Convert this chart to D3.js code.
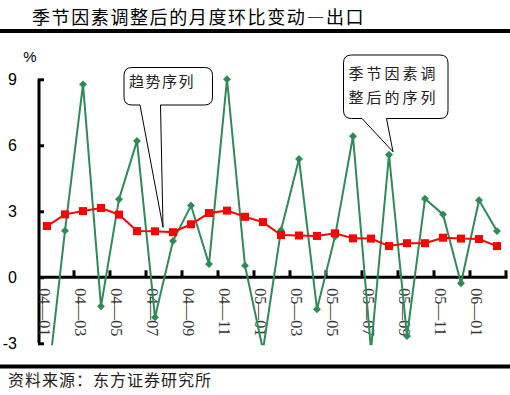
<!DOCTYPE html>
<html lang="zh">
  <head>
    <meta charset="utf-8">
    <title>季节因素调整后的月度环比变动—出口</title>
    <style>
      body { margin: 0; background: #fff; }
      svg { display: block; }
    </style>
  </head>
  <body>
    <div id="chart-area"></div>
    <script src="https://cdn.jsdelivr.net/npm/d3@7/dist/d3.min.js"></script>
    <script>
      // months 04-01 .. 06-02
      const months = ['04-01','04-02','04-03','04-04','04-05','04-06','04-07','04-08','04-09','04-10','04-11','04-12',
                      '05-01','05-02','05-03','05-04','05-05','05-06','05-07','05-08','05-09','05-10','05-11','05-12',
                      '06-01','06-02'];
      // seasonally adjusted series (green)
      const adjusted = [-5.1, 2.12, 8.77, -1.32, 3.55, 6.2, -1.82, 1.65, 3.26, 0.6, 9.0, 0.53,
                        -3.3, 2.14, 5.38, -1.45, 1.85, 6.41, -3.3, 5.57, -2.67, 3.57, 2.86, -0.27,
                        3.5, 2.1];
      // trend series (red)
      const trend = [2.33, 2.86, 3.01, 3.15, 2.85, 2.1, 2.09, 2.05, 2.41, 2.92, 3.03, 2.75,
                     2.51, 1.92, 1.9, 1.88, 2.0, 1.77, 1.76, 1.42, 1.55, 1.55, 1.8, 1.76,
                     1.74, 1.42];
      const y_ticks = [-3, 0, 3, 6, 9];
      const x_labels = months.filter((d, i) => i % 2 === 0);

      const svg_width = 510;
      const svg_height = 395;
      const green = 'rgb(46,139,87)';
      const red = '#ff0000';

      const x_scale = d3.scaleBand()
        .domain(months)
        .range([38, 506]);
      const y_scale = d3.scaleLinear()
        .domain([-3, 9])
        .range([343.3, 79.3]);
      const cx = (d) => x_scale(d) + x_scale.bandwidth() / 2;

      const svg = d3.select('#chart-area')
        .append('svg')
        .attr('width', svg_width)
        .attr('height', svg_height);

      // title and rules
      svg.append('text')
        .attr('x', 32)
        .attr('y', 24)
        .attr('font-family', 'Noto Sans CJK SC')
        .attr('font-size', '18px')
        .attr('letter-spacing', '1.6px')
        .attr('fill', '#000')
        .text('季节因素调整后的月度环比变动—出口');
      svg.append('rect').attr('x', 0).attr('y', 29).attr('width', svg_width).attr('height', 4).attr('fill', '#000');
      svg.append('rect').attr('x', 0).attr('y', 364.5).attr('width', svg_width).attr('height', 4).attr('fill', '#000');

      svg.append('text')
        .attr('x', 8)
        .attr('y', 386)
        .attr('font-family', 'Noto Sans CJK SC')
        .attr('font-size', '16px')
        .attr('letter-spacing', '1px')
        .attr('fill', '#222')
        .text('资料来源：东方证券研究所');

      svg.append('text')
        .attr('x', 30)
        .attr('y', 62)
        .attr('text-anchor', 'middle')
        .attr('font-family', 'Liberation Sans')
        .attr('font-size', '15px')
        .text('%');

      // clip for the plot area (values beyond -3 are cut)
      svg.append('clipPath').attr('id', 'plot-clip')
        .append('rect')
        .attr('x', 30)
        .attr('y', 60)
        .attr('width', 480)
        .attr('height', y_scale(-3) + 2 - 60);

      // y axis
      const y_axis = d3.axisRight(y_scale)
        .tickValues(y_ticks)
        .tickSize(6)
        .tickFormat('');
      const gy = svg.append('g')
        .attr('transform', 'translate(38,0)')
        .call(y_axis);
      gy.select('.domain').attr('stroke-width', 3).attr('d', `M1,${y_scale(9)}V${y_scale(-3)}`);
      gy.selectAll('.tick line').attr('stroke-width', 3);
      svg.append('g').selectAll('text')
        .data(y_ticks)
        .enter()
        .append('text')
        .attr('x', 17)
        .attr('y', (d) => y_scale(d) + 5.5)
        .attr('text-anchor', 'end')
        .attr('font-family', 'Liberation Sans')
        .attr('font-size', '16px')
        .attr('fill', '#000')
        .text((d) => d);

      // x axis: ticks every 2 months, labels every 2 months
      const x_edges = months.filter((d, i) => i % 2 === 0).map((d) => x_scale(d)).concat([x_scale.range()[1]]);
      const gx = svg.append('g');
      gx.append('line')
        .attr('x1', 38).attr('x2', 507.5)
        .attr('y1', y_scale(0)).attr('y2', y_scale(0))
        .attr('stroke', '#000').attr('stroke-width', 3);
      gx.selectAll('line.tick')
        .data(x_edges.slice(1))
        .enter()
        .append('line')
        .attr('class', 'tick')
        .attr('x1', (d) => d).attr('x2', (d) => d)
        .attr('y1', y_scale(0)).attr('y2', y_scale(0) - 7)
        .attr('stroke', '#000').attr('stroke-width', 3);
      gx.selectAll('text')
        .data(x_labels)
        .enter()
        .append('text')
        .attr('transform', (d) => `translate(${cx(d) - 8},${y_scale(0) + 11}) rotate(90)`)
        .attr('font-family', 'Liberation Serif')
        .attr('font-size', '16px')
        .attr('fill', '#333')
        .text((d) => d.replace('-', '—'));

      const plot = svg.append('g').attr('clip-path', 'url(#plot-clip)');

      // seasonally adjusted series
      const series_line = d3.line()
        .x((d, i) => cx(months[i]))
        .y((d) => y_scale(d));
      plot.append('path')
        .datum(adjusted)
        .attr('d', series_line)
        .attr('fill', 'none')
        .attr('stroke', green)
        .attr('stroke-width', 2);
      plot.selectAll('path.diamond')
        .data(adjusted)
        .enter()
        .append('path')
        .attr('class', 'diamond')
        .attr('d', d3.symbol().type(d3.symbolDiamond2).size(40))
        .attr('transform', (d, i) => `translate(${cx(months[i])},${y_scale(d)})`)
        .attr('fill', green);

      // trend series
      plot.append('path')
        .datum(trend)
        .attr('d', series_line)
        .attr('fill', 'none')
        .attr('stroke', red)
        .attr('stroke-width', 2);
      plot.selectAll('rect.sq')
        .data(trend)
        .enter()
        .append('rect')
        .attr('class', 'sq')
        .attr('x', (d, i) => cx(months[i]) - 4)
        .attr('y', (d) => y_scale(d) - 4)
        .attr('width', 8)
        .attr('height', 8)
        .attr('fill', red);

      // callouts
      const callout = (box, tip, base0, base1, lines, fs, ls, lh) => {
        const r = 8;
        const [x0, y0, x1, y1] = box;
        const p = d3.path();
        p.moveTo(x0 + r, y0);
        p.lineTo(x1 - r, y0);
        p.quadraticCurveTo(x1, y0, x1, y0 + r);
        p.lineTo(x1, y1 - r);
        p.quadraticCurveTo(x1, y1, x1 - r, y1);
        p.lineTo(base1, y1);
        p.lineTo(tip[0], tip[1]);
        p.lineTo(base0, y1);
        p.lineTo(x0 + r, y1);
        p.quadraticCurveTo(x0, y1, x0, y1 - r);
        p.lineTo(x0, y0 + r);
        p.quadraticCurveTo(x0, y0, x0 + r, y0);
        p.closePath();
        svg.append('path')
          .attr('d', p.toString())
          .attr('fill', '#fff')
          .attr('stroke', '#000')
          .attr('stroke-width', 1);
        lines.forEach((t, i) => {
          svg.append('text')
            .attr('x', x0 + 5)
            .attr('y', y0 + lh * (i + 1) - 1)
            .attr('font-family', 'Noto Sans CJK SC')
            .attr('font-size', fs)
            .attr('letter-spacing', ls)
            .attr('fill', '#222')
            .text(t);
        });
      };
      callout([124, 67.5, 212.5, 105],
        [cx(months[6]) + 8, y_scale(trend[6]) - 4], 140, 160.5,
        ['趋势序列'], '15px', '1.5px', 20);
      callout([343.5, 55, 448, 118.5],
        [cx(months[19]) + 4, y_scale(adjusted[19]) - 3], 362, 386.5,
        ['季节因素调', '整后的序列'], '15px', '3px', 24.5);
    </script>
  </body>
</html>
